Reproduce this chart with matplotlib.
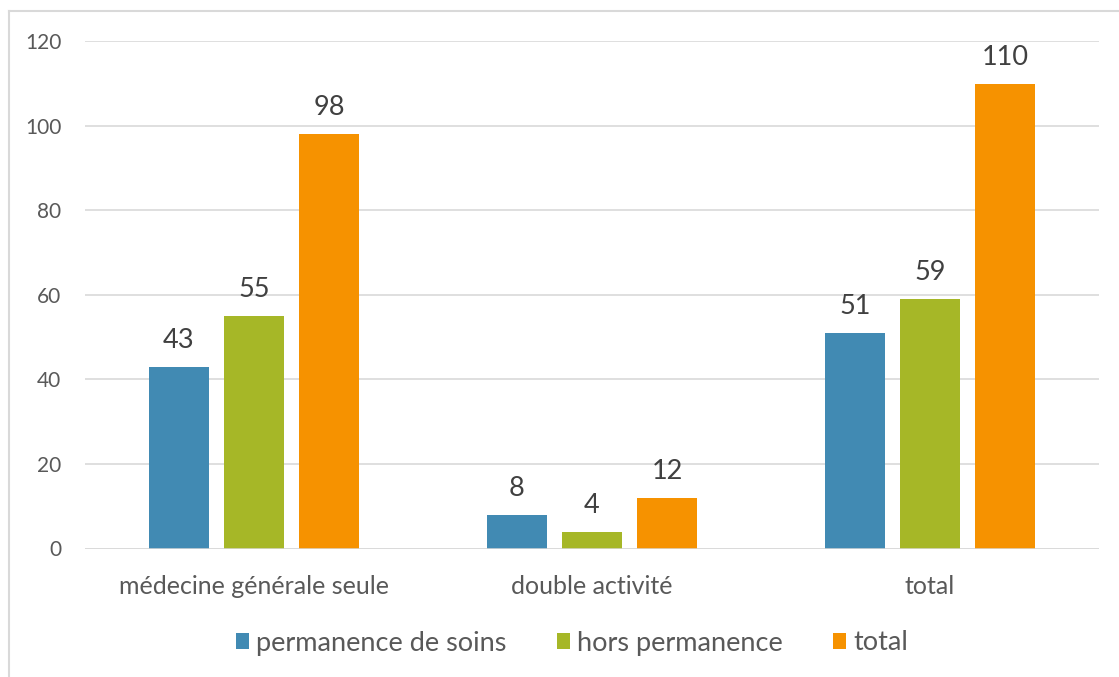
import matplotlib
matplotlib.use('Agg')
from matplotlib import pyplot as plt
from matplotlib.lines import Line2D
import numpy as np

plt.rcParams['font.family'] = ['Lato', 'DejaVu Sans']

categories = ['médecine générale seule', 'double activité', 'total']
series_names = ['permanence de soins', 'hors permanence', 'total']
permanence = [43, 8, 51]
hors_permanence = [55, 4, 59]
total = [98, 12, 110]
colors = ['#418AB3', '#A6B727', '#F69200']
yticks = [0, 20, 40, 60, 80, 100, 120]

text_color = '#595959'
grid_color = '#D9D9D9'

fig = plt.figure(figsize=(11.19, 6.77), dpi=100)
ax = fig.add_axes([85 / 1119, 1 - 548.5 / 677, 1014 / 1119, 507.2 / 677])

x = np.arange(len(categories))
width = 0.175
step = 0.222
for i, (vals, name, col) in enumerate(zip([permanence, hors_permanence, total], series_names, colors)):
    bars = ax.bar(x + (i - 1) * step, vals, width, color=col, label=name, zorder=3)
    for b, v in zip(bars, vals):
        ax.annotate(str(v), (b.get_x() + b.get_width() / 2, v), xytext=(0, 19),
                    textcoords='offset pixels', ha='center', va='baseline',
                    fontsize=19.5, color='#404040')

ax.set_xlim(-0.5, 2.5)
ax.set_ylim(0, 120)
ax.set_yticks(yticks)
ax.set_xticks(x)
ax.set_xticklabels(categories)
ax.grid(axis='y', color=grid_color, linewidth=1.2, zorder=0)
for s in ax.spines.values():
    s.set_visible(False)
ax.axhline(0, color=grid_color, linewidth=1.8, zorder=4)
ax.tick_params(axis='y', length=0, pad=17, labelsize=15, labelcolor=text_color)
ax.tick_params(axis='x', length=0, pad=19, labelsize=18, labelcolor=text_color)

fig.legend(loc='center', bbox_to_anchor=(572 / 1119, 1 - 643 / 677), ncol=3,
           frameon=False, fontsize=19.5, labelcolor=text_color, handlelength=0.5,
           handleheight=0.5, handletextpad=0.25, columnspacing=1.85)

# outer chart border (runs off the right and bottom edges)
fig.add_artist(Line2D([8.5 / 1119, 8.5 / 1119], [0, 1 - 11 / 677], color=grid_color, lw=1.5))
fig.add_artist(Line2D([8.5 / 1119, 1], [1 - 11 / 677, 1 - 11 / 677], color=grid_color, lw=1.5))

fig.savefig('out.png', dpi=100)
